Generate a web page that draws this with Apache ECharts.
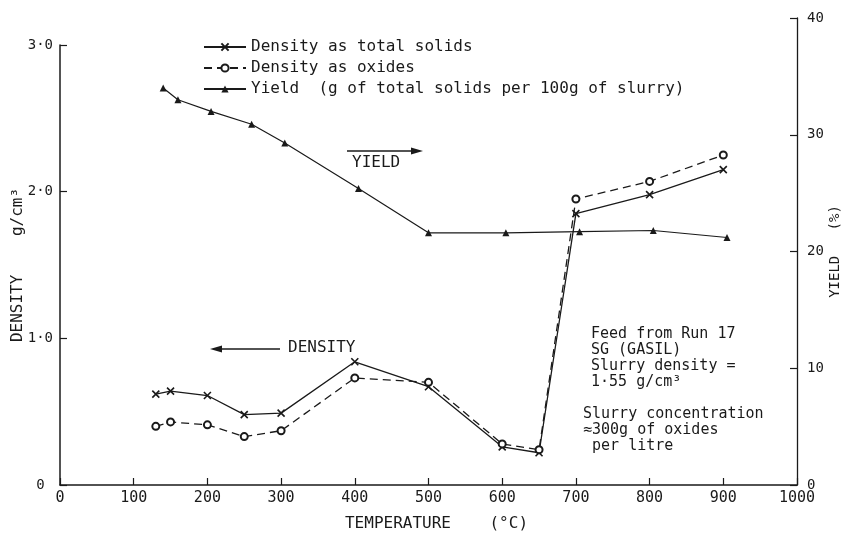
<!DOCTYPE html>
<html>
<head>
<meta charset="utf-8">
<script src="https://cdn.jsdelivr.net/npm/echarts@6/dist/echarts.min.js"></script>
<style>
html,body{margin:0;padding:0;background:#fff;}
#c{width:858px;height:534px;}
</style>
</head>
<body>
<div id="c"></div>
<script>
// Data
var densityTemps = [130, 150, 200, 250, 300, 400, 500, 600, 650, 700, 800, 900];
var densityTotalSolids = [0.62, 0.64, 0.61, 0.48, 0.49, 0.84, 0.67, 0.26, 0.22, 1.85, 1.98, 2.15];
var densityOxides = [0.40, 0.43, 0.41, 0.33, 0.37, 0.73, 0.70, 0.28, 0.24, 1.95, 2.07, 2.25];
var yieldTemps = [140, 160, 205, 260, 305, 405, 500, 605, 705, 805, 905];
var yieldValues = [34.0, 33.0, 32.0, 30.9, 29.3, 25.4, 21.6, 21.6, 21.7, 21.8, 21.2];
var xTicks = [0, 100, 200, 300, 400, 500, 600, 700, 800, 900, 1000];
var densityTickLabels = {0: '0 ', 1: '1·0', 2: '2·0', 3: '3·0'};
var yieldTickLabels = [0, 10, 20, 30, 40];
var seriesNames = ['Density as total solids', 'Density as oxides', 'Yield  (g of total solids per 100g of slurry)'];

function pairs(xs, ys) { return xs.map(function (x, i) { return [x, ys[i]]; }); }

var FONT = 'DejaVu Sans Mono';
var INK = '#1a1a1a';
var chart = echarts.init(document.getElementById('c'), null, {renderer: 'canvas'});
var crossPath = 'path://M0,0L10,10M10,0L0,10';

chart.setOption({
  backgroundColor: '#ffffff',
  animation: false,
  textStyle: {fontFamily: FONT, color: INK},
  legend: {
    orient: 'vertical',
    left: 198,
    top: 34,
    itemGap: 5,
    itemWidth: 42,
    itemHeight: 9,
    textStyle: {fontFamily: FONT, fontSize: 16, color: INK},
    data: seriesNames
  },
  grid: [
    {left: 60, right: 61, top: 45, bottom: 49, containLabel: false, outerBoundsMode: 'none'},
    {left: 60, right: 61, top: 18, bottom: 49, containLabel: false, outerBoundsMode: 'none'}
  ],
  xAxis: [
    {
      type: 'value', gridIndex: 0, min: xTicks[0], max: xTicks[xTicks.length - 1], interval: 100,
      name: 'TEMPERATURE    (°C)', nameLocation: 'middle', nameGap: 31,
      nameTextStyle: {fontFamily: FONT, fontSize: 16, color: INK, padding: [0, 0, 0, 16]},
      axisLine: {show: true, onZero: false, lineStyle: {color: INK, width: 1.5}},
      axisTick: {show: true, inside: true, length: 7, lineStyle: {color: INK, width: 1.2}},
      axisLabel: {fontFamily: FONT, fontSize: 15, color: INK, margin: 6,
        formatter: function (v) { return String(v); }},
      splitLine: {show: false}
    },
    {
      type: 'value', gridIndex: 1, min: xTicks[0], max: xTicks[xTicks.length - 1], interval: 100, show: false,
      axisLine: {onZero: false},
      splitLine: {show: false}
    }
  ],
  yAxis: [
    {
      type: 'value', gridIndex: 0, position: 'left', min: 0, max: 3, interval: 1,
      name: 'DENSITY    g/cm³', nameLocation: 'middle', nameGap: 34, nameRotate: 90,
      nameMoveOverlap: false,
      nameTextStyle: {fontFamily: FONT, fontSize: 16, color: INK},
      axisLine: {show: true, onZero: false, lineStyle: {color: INK, width: 1.5}},
      axisTick: {show: true, inside: true, length: 7, lineStyle: {color: INK, width: 1.2}},
      axisLabel: {fontFamily: FONT, fontSize: 14, color: INK, margin: 7,
        formatter: function (v) { return densityTickLabels[v] !== undefined ? densityTickLabels[v] : ''; }},
      splitLine: {show: false}
    },
    {
      type: 'value', gridIndex: 1, position: 'right', min: yieldTickLabels[0], max: yieldTickLabels[yieldTickLabels.length - 1], interval: 10,
      name: 'YIELD   (%)', nameLocation: 'middle', nameGap: 31, nameRotate: 90,
      nameMoveOverlap: false,
      nameTextStyle: {fontFamily: FONT, fontSize: 14, color: INK},
      axisLine: {show: true, onZero: false, lineStyle: {color: INK, width: 1.3}},
      axisTick: {show: true, inside: true, length: 7, lineStyle: {color: INK, width: 1.2}},
      axisLabel: {fontFamily: FONT, fontSize: 14, color: INK, margin: 10},
      splitLine: {show: false}
    }
  ],
  series: [
    {
      name: seriesNames[0], type: 'line', xAxisIndex: 0, yAxisIndex: 0,
      data: pairs(densityTemps, densityTotalSolids),
      symbol: crossPath, symbolSize: 7,
      lineStyle: {color: INK, width: 1.3, type: 'solid'},
      itemStyle: {color: INK, borderColor: INK, borderWidth: 1.6}
    },
    {
      name: seriesNames[1], type: 'line', xAxisIndex: 0, yAxisIndex: 0,
      data: pairs(densityTemps, densityOxides),
      symbol: 'emptyCircle', symbolSize: 7,
      lineStyle: {color: INK, width: 1.3, type: [8, 5]},
      itemStyle: {color: INK, borderColor: INK, borderWidth: 1.4}
    },
    {
      name: seriesNames[2], type: 'line', xAxisIndex: 1, yAxisIndex: 1,
      data: pairs(yieldTemps, yieldValues),
      symbol: 'triangle', symbolSize: 7,
      lineStyle: {color: INK, width: 1.2, type: 'solid'},
      itemStyle: {color: INK, borderColor: INK, borderWidth: 0}
    }
  ],
  graphic: [
    // YIELD arrow (points to right axis)
    {type: 'line', shape: {x1: 347, y1: 151, x2: 414, y2: 151}, style: {stroke: INK, lineWidth: 1.5}},
    {type: 'polygon', shape: {points: [[423, 151], [411, 147.5], [411, 154.5]]}, style: {fill: INK}},
    {type: 'text', left: 352, top: 155, style: {text: 'YIELD', font: '16px "DejaVu Sans Mono"', fill: INK}},
    // DENSITY arrow (points to left axis)
    {type: 'line', shape: {x1: 220, y1: 349, x2: 280, y2: 349}, style: {stroke: INK, lineWidth: 1.5}},
    {type: 'polygon', shape: {points: [[210, 349], [222, 345.5], [222, 352.5]]}, style: {fill: INK}},
    {type: 'text', left: 288, top: 340, style: {text: 'DENSITY', font: '16px "DejaVu Sans Mono"', fill: INK}},
    // Notes block
    {type: 'text', left: 591, top: 326, style: {
      text: 'Feed from Run 17\nSG (GASIL)\nSlurry density =\n1·55 g/cm³',
      font: '15px "DejaVu Sans Mono"', lineHeight: 16, fill: INK}},
    {type: 'text', left: 583, top: 406, style: {
      text: 'Slurry concentration\n≈300g of oxides\n per litre',
      font: '15px "DejaVu Sans Mono"', lineHeight: 16, fill: INK}}
  ]
});
</script>
</body>
</html>
